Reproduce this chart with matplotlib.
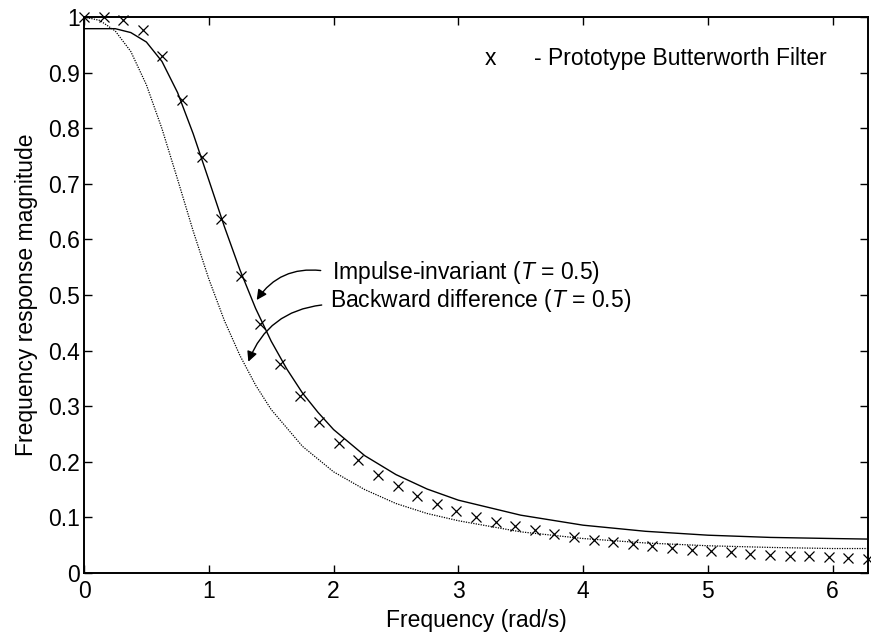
import matplotlib
matplotlib.use("Agg")
import matplotlib.pyplot as plt

plt.rcParams['font.family'] = ['Liberation Sans', 'DejaVu Sans']
plt.rcParams['mathtext.fontset'] = 'custom'
plt.rcParams['mathtext.rm'] = 'Liberation Sans'
plt.rcParams['mathtext.it'] = 'Liberation Sans:italic'

# Prototype Butterworth filter samples (x markers)
proto_w = [0.000, 0.157, 0.314, 0.471, 0.628, 0.785, 0.942, 1.100, 1.257, 1.414,
           1.571, 1.728, 1.885, 2.042, 2.199, 2.356, 2.513, 2.670, 2.827, 2.985,
           3.142, 3.299, 3.456, 3.613, 3.770, 3.927, 4.084, 4.241, 4.398, 4.555,
           4.712, 4.869, 5.027, 5.184, 5.341, 5.498, 5.655, 5.812, 5.969, 6.126,
           6.283]
proto_mag = [1.000, 1.000, 0.995, 0.976, 0.930, 0.851, 0.748, 0.637, 0.535, 0.448,
             0.376, 0.318, 0.271, 0.233, 0.203, 0.177, 0.156, 0.139, 0.124, 0.112,
             0.101, 0.092, 0.084, 0.077, 0.070, 0.065, 0.060, 0.056, 0.052, 0.048,
             0.045, 0.042, 0.040, 0.037, 0.035, 0.033, 0.031, 0.030, 0.028, 0.027,
             0.025]

# Impulse-invariant (T = 0.5), solid
ii_w = [0.0, 0.125, 0.25, 0.375, 0.5, 0.625, 0.75, 0.875, 1.0, 1.125, 1.25, 1.375,
        1.5, 1.625, 1.75, 1.875, 2.0, 2.25, 2.5, 2.75, 3.0, 3.5, 4.0, 4.5, 5.0,
        5.5, 6.0, 6.283]
ii_mag = [0.979, 0.979, 0.979, 0.972, 0.955, 0.920, 0.864, 0.790, 0.707, 0.623,
          0.545, 0.476, 0.417, 0.367, 0.324, 0.289, 0.258, 0.211, 0.177, 0.151,
          0.131, 0.104, 0.086, 0.075, 0.068, 0.064, 0.062, 0.061]

# Backward difference (T = 0.5), dotted
bd_w = [0.0, 0.125, 0.25, 0.375, 0.5, 0.625, 0.75, 0.875, 1.0, 1.125, 1.25, 1.375,
        1.5, 1.75, 2.0, 2.25, 2.5, 2.75, 3.0, 3.5, 4.0, 4.5, 5.0, 5.5, 6.0, 6.283]
bd_mag = [1.000, 0.994, 0.975, 0.938, 0.878, 0.799, 0.708, 0.615, 0.529, 0.454,
          0.391, 0.338, 0.294, 0.228, 0.182, 0.150, 0.125, 0.107, 0.094, 0.074,
          0.062, 0.054, 0.049, 0.046, 0.044, 0.044]

xticks = [0, 1, 2, 3, 4, 5, 6]
yticks = [0, 0.1, 0.2, 0.3, 0.4, 0.5, 0.6, 0.7, 0.8, 0.9, 1.0]
ytick_labels = ['0', '0.1', '0.2', '0.3', '0.4', '0.5', '0.6', '0.7', '0.8', '0.9', '1']

fs = 16.5

fig = plt.figure(figsize=(8.71, 6.39), dpi=100)
ax = fig.add_axes([84/871, 1 - 573/639, (868 - 84)/871, (573 - 17)/639])

ax.plot(ii_w, ii_mag, color='black', lw=1.0, solid_joinstyle='round')
ax.plot(bd_w, bd_mag, color='black', lw=0.9, linestyle=(0, (1, 1)))
ax.plot(proto_w, proto_mag, linestyle='none', marker='x', color='black',
        markersize=7.5, markeredgewidth=0.9, clip_on=False)

ax.set_xlim(0, 6.283)
ax.set_ylim(0, 1)
ax.set_xticks(xticks)
ax.set_xticklabels([str(t) for t in xticks])
ax.set_yticks(yticks)
ax.set_yticklabels(ytick_labels)

for s in ax.spines.values():
    s.set_linewidth(1.4)
ax.tick_params(direction='in', top=True, right=True, length=6, width=1.0,
               labelsize=fs)
ax.tick_params(axis='x', pad=5)
ax.tick_params(axis='y', pad=3)

ax.set_xlabel('Frequency (rad/s)', fontsize=fs, labelpad=4)
ax.set_ylabel('Frequency response magnitude', fontsize=fs, labelpad=7)

ax.text(3.21, 0.925, 'x', fontsize=fs, va='center', ha='left')
ax.text(3.61, 0.925, '- Prototype Butterworth Filter', fontsize=fs, va='center', ha='left')

ax.text(1.985, 0.540, 'Impulse-invariant ($T$ = 0.5)', fontsize=fs, va='center', ha='left')
ax.text(1.97, 0.490, 'Backward difference ($T$ = 0.5)', fontsize=fs, va='center', ha='left')

arrow_kw = dict(arrowstyle='-|>', connectionstyle='arc3,rad=0.3', color='black',
                lw=1.0, mutation_scale=15, shrinkA=0, shrinkB=0)
ax.annotate('', xy=(1.384, 0.491), xytext=(1.897, 0.544), arrowprops=arrow_kw)
ax.annotate('', xy=(1.317, 0.380), xytext=(1.905, 0.482), arrowprops=arrow_kw)

fig.savefig('out.png', dpi=100)
